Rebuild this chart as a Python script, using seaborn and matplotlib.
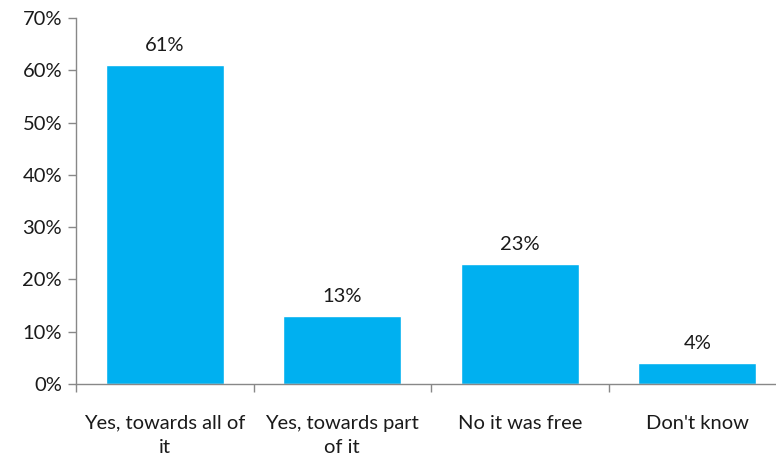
import matplotlib
matplotlib.use("Agg")
import matplotlib.pyplot as plt
import seaborn as sns
import pandas as pd
import numpy as np
from matplotlib.ticker import FixedLocator, PercentFormatter

categories = ["Yes, towards all of\nit", "Yes, towards part\nof it", "No it was free", "Don't know"]
values = [61, 13, 23, 4]

sns.set_theme(style="white")
plt.rcParams['font.family'] = ['Lato', 'DejaVu Sans']

df = pd.DataFrame({"cat": categories, "val": values})

fig = plt.figure(figsize=(7.76, 4.57), dpi=100)
ax = fig.add_axes([76/776, (457-384)/457, 700/776, 366/457])
sns.barplot(data=df, x="cat", y="val", color="#00B0F0", width=0.665, saturation=1, ax=ax)

ax.set_xlim(-0.5, -0.5 + 700/177.5)
ax.set_ylim(0, 70)
ax.set_yticks(np.arange(0, 71, 10))
ax.yaxis.set_major_formatter(PercentFormatter(decimals=0))
ax.set_xlabel("")
ax.set_ylabel("")

for s in ["top", "right"]:
    ax.spines[s].set_visible(False)
for s in ["left", "bottom"]:
    ax.spines[s].set_color("#888888")
    ax.spines[s].set_linewidth(1)

fs = 14.5
ax.tick_params(axis="y", which="major", left=True, length=6, width=1, color="#888888",
               labelsize=fs, labelcolor="#1a1a1a", pad=4)
ax.tick_params(axis="x", which="major", bottom=False, length=0, labelsize=fs,
               labelcolor="#1a1a1a", pad=22)
ax.xaxis.set_minor_locator(FixedLocator([-0.5, 0.5, 1.5, 2.5, 3.5]))
ax.tick_params(axis="x", which="minor", bottom=True, length=6, width=1, color="#888888")
for lbl in ax.get_xticklabels():
    lbl.set_linespacing(1.5)
    lbl.set_va("top")

for i, v in enumerate(values):
    ax.annotate(f"{v}%", (i, v), xytext=(0, 8), textcoords="offset points",
                ha="center", va="bottom", fontsize=fs, color="#1a1a1a")

fig.savefig("out.png", dpi=100)
